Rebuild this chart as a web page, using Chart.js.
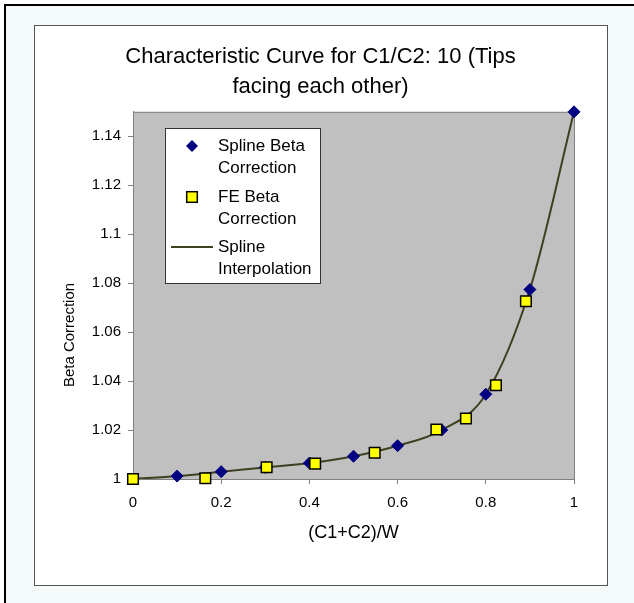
<!DOCTYPE html>
<html lang="en">
<head>
  <meta charset="UTF-8">
  <title>Characteristic Curve</title>
  <script src="https://cdn.jsdelivr.net/npm/chart.js@4.4.1/dist/chart.umd.min.js"></script>
  <style>
    body { margin: 0; background: #fff; }
  </style>
</head>
<body>
<canvas id="chart" width="634" height="603"></canvas>

<script>
  // spline beta correction (diamonds, also used for the interpolated curve)
  const splineX = [0, 0.1, 0.2, 0.3, 0.4, 0.5, 0.6, 0.7, 0.8, 0.9, 1];
  const splineY = [1.0, 1.0012, 1.003, 1.0047, 1.0065, 1.0093, 1.0136, 1.0200, 1.0346, 1.0774, 1.15];

  // FE beta correction (yellow squares)
  const feX = [0, 0.164, 0.303, 0.413, 0.548, 0.688, 0.755, 0.823, 0.891];
  const feY = [1.0, 1.0003, 1.0048, 1.0063, 1.0107, 1.0202, 1.0247, 1.0383, 1.0726];

  const xTicks = [0, 0.2, 0.4, 0.6, 0.8, 1];
  const yTicks = [1, 1.02, 1.04, 1.06, 1.08, 1.1, 1.12, 1.14];

  const titleLines = ['Characteristic Curve for C1/C2: 10 (Tips', 'facing each other)'];
  const yTitle = 'Beta Correction';
  const legendLines = [['Spline Beta', 'Correction'], ['FE Beta', 'Correction'], ['Spline', 'Interpolation']];

  const toPoints = (xs, ys) => xs.map((x, i) => ({x: x, y: ys[i]}));

  const FONT = '"Liberation Sans", Arial, sans-serif';
  Chart.defaults.font.family = FONT;
  Chart.defaults.color = '#000';

  // page background, outer frame, grey plot area and the y axis title
  const backdrop = {
    id: 'backdrop',
    beforeDraw(chart) {
      const {ctx, chartArea: a} = chart;
      ctx.save();
      ctx.fillStyle = '#fff';
      ctx.fillRect(0, 0, chart.width, chart.height);
      ctx.fillStyle = '#f4f9f9';
      ctx.fillRect(5, 5, chart.width - 5, chart.height - 5);
      ctx.fillStyle = '#000';
      ctx.fillRect(4, 4, chart.width - 4, 2);
      ctx.fillRect(4, 4, 2, chart.height - 4);
      ctx.fillStyle = '#fff';
      ctx.fillRect(34, 25, 573, 560);
      ctx.strokeStyle = '#555';
      ctx.lineWidth = 1;
      ctx.strokeRect(34.5, 25.5, 573, 560);
      ctx.fillStyle = '#c0c0c0';
      ctx.fillRect(a.left, a.top, a.width, a.height);
      ctx.strokeStyle = '#808080';
      ctx.strokeRect(a.left + 0.5, a.top + 0.5, a.width, a.height);

      // Excel puts the y title a bit below the middle of the plot
      ctx.translate(70, 335);
      ctx.rotate(-Math.PI / 2);
      ctx.fillStyle = '#000';
      ctx.font = '15px ' + FONT;
      ctx.textAlign = 'center';
      ctx.textBaseline = 'middle';
      ctx.fillText(yTitle, 0, 0);
      ctx.restore();
    }
  };

  // legend box sitting inside the plot area
  const boxLegend = {
    id: 'boxLegend',
    afterDatasetsDraw(chart) {
      const {ctx} = chart;
      const left = 165, top = 128, w = 155, h = 155;
      ctx.save();
      ctx.fillStyle = '#fff';
      ctx.fillRect(left, top, w, h);
      ctx.strokeStyle = '#333';
      ctx.lineWidth = 1;
      ctx.strokeRect(left + 0.5, top + 0.5, w, h);

      const rows = [146, 197, 247];
      ctx.font = '17px ' + FONT;
      ctx.textBaseline = 'middle';
      chart.data.datasets.forEach((ds, i) => {
        const y = rows[i];
        const cx = 192;
        if (ds.pointStyle === 'rectRot') {
          const r = ds.pointRadius;
          ctx.beginPath();
          ctx.moveTo(cx - r, y); ctx.lineTo(cx, y - r);
          ctx.lineTo(cx + r, y); ctx.lineTo(cx, y + r);
          ctx.closePath();
          ctx.fillStyle = ds.backgroundColor;
          ctx.fill();
        } else if (ds.pointStyle === 'rect') {
          const s = ds.pointRadius * Math.SQRT1_2;
          ctx.fillStyle = ds.backgroundColor;
          ctx.fillRect(cx - s, y - s, 2 * s, 2 * s);
          ctx.strokeStyle = ds.borderColor;
          ctx.lineWidth = ds.borderWidth;
          ctx.strokeRect(cx - s, y - s, 2 * s, 2 * s);
        } else {
          ctx.strokeStyle = ds.borderColor;
          ctx.lineWidth = ds.borderWidth;
          ctx.beginPath();
          ctx.moveTo(171, y); ctx.lineTo(213, y);
          ctx.stroke();
        }
        ctx.fillStyle = '#000';
        legendLines[i].forEach((t, k) => ctx.fillText(t, 218, y + k * 22));
      });
      ctx.restore();
    }
  };

  const ctx = document.getElementById('chart').getContext('2d');
  const chart = new Chart(ctx, {
    type: 'scatter',
    data: {
      datasets: [{
        label: 'Spline Beta Correction',
        data: toPoints(splineX, splineY),
        pointStyle: 'rectRot',
        pointRadius: 6,
        backgroundColor: '#000080',
        borderColor: '#000080',
        borderWidth: 1,
        clip: false,
        order: 1
      }, {
        label: 'FE Beta Correction',
        data: toPoints(feX, feY),
        pointStyle: 'rect',
        pointRadius: 7.5,
        backgroundColor: '#ffff00',
        borderColor: '#000',
        borderWidth: 1.5,
        clip: false,
        order: 0
      }, {
        label: 'Spline Interpolation',
        data: toPoints(splineX, splineY),
        showLine: true,
        pointRadius: 0,
        borderColor: '#404020',
        borderWidth: 2,
        cubicInterpolationMode: 'monotone',
        order: 2
      }]
    },
    options: {
      responsive: false,
      animation: false,
      devicePixelRatio: 1,
      layout: { padding: { top: 26, left: 34, right: 27, bottom: 18 } },
      plugins: {
        legend: { display: false },
        tooltip: { enabled: false },
        title: {
          display: true,
          text: titleLines,
          font: { size: 22, weight: 'normal', lineHeight: 1.36 },
          color: '#000',
          padding: { top: 16, bottom: 10 }
        }
      },
      scales: {
        x: {
          type: 'linear',
          min: 0, max: 1,
          afterBuildTicks: s => { s.ticks = xTicks.map(v => ({value: v})); },
          afterFit: s => { s.height = 106; },
          ticks: { font: { size: 15 }, padding: 10, callback: v => String(v) },
          grid: { drawOnChartArea: false, tickLength: 5, color: '#808080' },
          border: { color: '#808080' },
          title: { display: true, text: '(C1+C2)/W', font: { size: 18 }, padding: { top: 0, bottom: 41 } }
        },
        y: {
          type: 'linear',
          min: 1, max: 1.15,
          afterBuildTicks: s => { s.ticks = yTicks.map(v => ({value: v})); },
          afterFit: s => { s.width = 99; },
          ticks: { font: { size: 15 }, padding: 7, callback: v => String(v) },
          grid: { drawOnChartArea: false, tickLength: 5, color: '#808080' },
          border: { color: '#808080' }
        },
        spacer: {
          type: 'linear',
          position: 'right',
          display: true,
          afterFit: s => { s.width = 33; },
          ticks: { display: false },
          grid: { display: false },
          border: { display: false }
        }
      }
    },
    plugins: [backdrop, boxLegend]
  });
</script>
</body>
</html>
